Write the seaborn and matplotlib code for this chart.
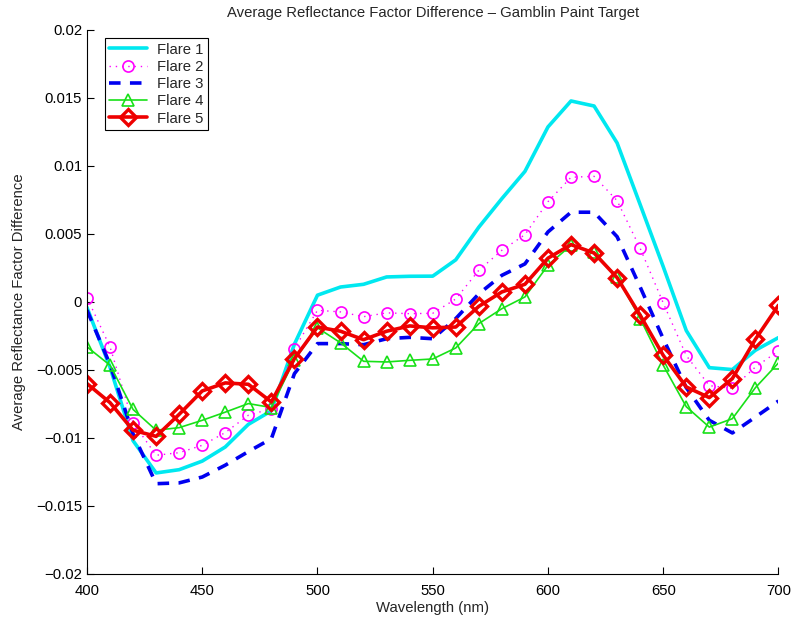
import numpy as np
import pandas as pd
import matplotlib
matplotlib.use("Agg")
import matplotlib.pyplot as plt
import seaborn as sns

wavelength = list(range(400, 701, 10))

flare1 = [-0.0004, -0.0048, -0.0102, -0.01257, -0.01233, -0.0117, -0.01066, -0.0090, -0.0080, -0.0031,
          0.0005, 0.0011, 0.0013, 0.00184, 0.00189, 0.0019, 0.0031, 0.0055, 0.0076, 0.0096,
          0.01287, 0.01478, 0.01441, 0.01169, 0.00716, 0.0026, -0.0021, -0.00483, -0.00497, -0.00355, -0.00262]
flare2 = [0.00032, -0.0033, -0.00887, -0.01127, -0.01108, -0.01054, -0.0096, -0.00833, -0.00784, -0.00343,
          -0.00061, -0.00073, -0.00108, -0.0008, -0.00086, -0.00083, 0.00022, 0.00233, 0.0038, 0.00495,
          0.00737, 0.00917, 0.00924, 0.00745, 0.00395, -0.00007, -0.00394, -0.00615, -0.00635, -0.00478, -0.0036]
flare3 = [-0.0006, -0.0046, -0.0097, -0.01336, -0.0133, -0.01287, -0.0120, -0.0110, -0.01005, -0.00527,
          -0.00306, -0.00306, -0.00314, -0.0027, -0.0026, -0.0027, -0.00122, 0.0006, 0.00196, 0.0028,
          0.00515, 0.0066, 0.0066, 0.0048, 0.0011, -0.0027, -0.0063, -0.0087, -0.00963, -0.00846, -0.00728]
flare4 = [-0.0033, -0.00465, -0.0079, -0.00943, -0.00924, -0.0087, -0.0081, -0.00747, -0.00776, -0.00424,
          -0.0019, -0.0030, -0.00436, -0.00441, -0.00429, -0.00419, -0.00338, -0.00159, -0.00049, 0.00037,
          0.0027, 0.00417, 0.00368, 0.00184, -0.00122, -0.00465, -0.0077, -0.0092, -0.00858, -0.0063, -0.00448]
flare5 = [-0.0060, -0.0074, -0.00943, -0.00988, -0.00826, -0.00654, -0.00595, -0.00605, -0.00735, -0.00416,
          -0.00184, -0.00215, -0.00277, -0.00215, -0.00176, -0.0019, -0.00184, -0.00032, 0.00074, 0.0013,
          0.00322, 0.00422, 0.0036, 0.00179, -0.00098, -0.00392, -0.00625, -0.00703, -0.00563, -0.00274, -0.00024]

series_names = ["Flare 1", "Flare 2", "Flare 3", "Flare 4", "Flare 5"]
series_values = [flare1, flare2, flare3, flare4, flare5]

x_ticks = [400, 450, 500, 550, 600, 650, 700]
y_ticks = [-0.02, -0.015, -0.01, -0.005, 0, 0.005, 0.01, 0.015, 0.02]
y_tick_labels = ["\u22120.02", "\u22120.015", "\u22120.01", "\u22120.005", "0", "0.005", "0.01", "0.015", "0.02"]

sns.set_theme(style="white")
plt.rcParams["font.family"] = ["Liberation Sans", "DejaVu Sans"]
FS = 10.7

styles = [
    dict(color="#00e8f0", linestyle="-", linewidth=2.6, marker=None),
    dict(color="#ff00ff", linestyle=(0, (1, 3.5)), linewidth=1.0, marker="o", markersize=8,
         markerfacecolor="none", markeredgecolor="#ff00ff", markeredgewidth=1.2),
    dict(color="#0000f0", linestyle=(0, (3.2, 2.6)), linewidth=2.6, marker=None),
    dict(color="#18e018", linestyle="-", linewidth=1.2, marker="^", markersize=8,
         markerfacecolor="none", markeredgecolor="#18e018", markeredgewidth=1.2),
    dict(color="#ee0000", linestyle="-", linewidth=2.6, marker="D", markersize=7.8,
         markerfacecolor="none", markeredgecolor="#ee0000", markeredgewidth=2.4),
]

fig = plt.figure(figsize=(7.95, 6.18), dpi=100)
ax = fig.add_axes([0.1094, 0.0712, 0.8698, 0.8803])

for name, vals, st in zip(series_names, series_values, styles):
    df = pd.DataFrame({"Wavelength": wavelength, "Value": vals})
    sns.lineplot(data=df, x="Wavelength", y="Value", ax=ax, label=name, **st)

ax.set_xlim(400, 700)
ax.set_ylim(-0.02, 0.02)
ax.set_xticks(x_ticks)
ax.set_xticklabels([str(v) for v in x_ticks])
ax.set_yticks(y_ticks)
ax.set_yticklabels(y_tick_labels)
ax.tick_params(direction="in", length=5, width=0.8, labelsize=FS, colors="black",
               left=True, bottom=True)
ax.tick_params(axis="y", pad=3.5)
ax.tick_params(axis="x", pad=7.5)
for s in ["top", "right"]:
    ax.spines[s].set_visible(False)
for s in ["left", "bottom"]:
    ax.spines[s].set_color("black")
    ax.spines[s].set_linewidth(0.8)

ax.set_xlabel("Wavelength (nm)", fontsize=FS, labelpad=2)
ax.set_ylabel("Average Reflectance Factor Difference", fontsize=FS, labelpad=7)
ax.set_title("Average Reflectance Factor Difference \u2013 Gamblin Paint Target", fontsize=FS, pad=9)

leg = ax.legend(loc="upper left", bbox_to_anchor=(0.026, 0.985), fontsize=FS, frameon=True,
                fancybox=False, edgecolor="black", framealpha=1, handlelength=2.5,
                borderpad=0.3, labelspacing=0.22, handletextpad=0.7, borderaxespad=0)
leg.get_frame().set_linewidth(0.8)

fig.savefig("out.png", dpi=100)
